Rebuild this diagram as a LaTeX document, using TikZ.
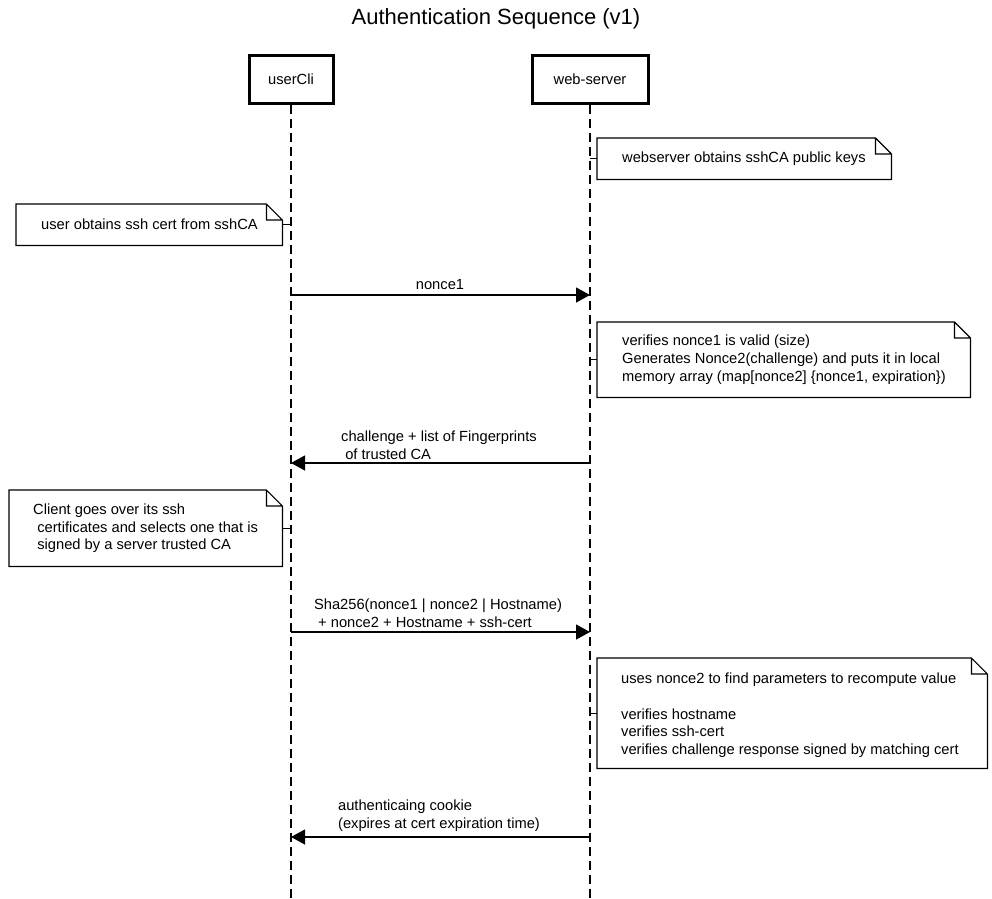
\documentclass[tikz,border=0pt]{standalone}
\usepackage{fontspec}
\setmainfont{Liberation Sans}
\usetikzlibrary{arrows.meta}
\begin{document}
\begin{tikzpicture}[x=1pt,y=-1pt,
  base/.style={font=\fontsize{14.7}{17.8}\selectfont},
  actor/.style={base, draw, line width=3pt, minimum height=48pt, inner sep=0pt},
  lifeline/.style={line width=1.2pt, dash pattern=on 9pt off 5pt},
  notebox/.style={anchor=north west, inner sep=0pt},
  notetext/.style={base, anchor=west, align=left, inner sep=0pt},
  noteline/.style={line width=1.2pt},
  msg/.style={line width=1.2pt, -{Triangle[length=14pt,width=15pt]}},
  msglabel/.style={base, align=left, inner sep=0pt}]

\path[use as bounding box] (0,0) rectangle (992,898);

% title
\node[font=\fontsize{22}{26}\selectfont] (title) at (496,19) {Authentication Sequence (v1)};

% participants and lifelines
\node[actor, minimum width=84pt] (uc) at (291,79) {userCli};
\node[actor, minimum width=116pt] (ws) at (590,79) {web-server};
\coordinate (ucEnd) at (291,898);
\coordinate (wsEnd) at (590,898);
\draw[lifeline] (uc.south) -- (ucEnd);
\draw[lifeline] (ws.south) -- (wsEnd);

% note boxes (outline drawn below)
\node[notebox, minimum width=294pt, minimum height=41pt] (n1) at (597,138) {};
\node[notebox, minimum width=266pt, minimum height=41pt] (n2) at (16,204) {};
\node[notebox, minimum width=373pt, minimum height=75pt] (n3) at (597,322) {};
\node[notebox, minimum width=273pt, minimum height=76pt] (n4) at (9,490) {};
\node[notebox, minimum width=390pt, minimum height=110pt] (n5) at (597,658) {};

\foreach \n in {n1,n2,n3,n4,n5}{
  \draw[noteline, line join=miter]
    (\n.north west) -- ([xshift=-16pt]\n.north east) -- ([yshift=-16pt]\n.north east)
    -- (\n.south east) -- (\n.south west) -- cycle
    ([xshift=-16pt]\n.north east) -- ([xshift=-16pt,yshift=-16pt]\n.north east)
    -- ([yshift=-16pt]\n.north east);
}

% note texts
\node[notetext] (t1) at ([xshift=25pt]n1.west) {webserver obtains sshCA public keys};
\node[notetext] (t2) at ([xshift=25pt]n2.west) {user obtains ssh cert from sshCA};
\node[notetext] (t3) at ([xshift=25pt]n3.west) {verifies nonce1 is valid (size)\\
  Generates Nonce2(challenge) and puts it in local\\
  memory array (map[nonce2] \{nonce1, expiration\})};
\node[notetext] (t4) at ([xshift=24pt]n4.west) {Client goes over its ssh\\
  \hspace*{0.28em}certificates and selects one that is\\
  \hspace*{0.28em}signed by a server trusted CA};
\node[notetext] (t5) at ([xshift=24pt,yshift=-2pt]n5.west) {uses nonce2 to find parameters to recompute value\\
  \mbox{}\\
  verifies hostname\\
  verifies ssh-cert\\
  verifies challenge response signed by matching cert};

% note connectors to lifelines
\draw[noteline] (n1.west) -- (n1.west -| ws.south);
\draw[noteline] (n2.east) -- (n2.east -| uc.south);
\draw[noteline] (n3.west) -- (n3.west -| ws.south);
\draw[noteline] (n4.east) -- (n4.east -| uc.south);
\draw[noteline] (n5.west) -- (n5.west -| ws.south);

% messages
\coordinate (m1a) at (291,295);
\coordinate (m1b) at (590,295);
\coordinate (m2a) at (590,463);
\coordinate (m2b) at (291,463);
\coordinate (m3a) at (291,632);
\coordinate (m3b) at (590,632);
\coordinate (m4a) at (590,837);
\coordinate (m4b) at (291,837);

\draw[msg] (m1a) -- (m1b);
\draw[msg] (m2a) -- (m2b);
\draw[msg] (m3a) -- (m3b);
\draw[msg] (m4a) -- (m4b);

\node[msglabel] (l1) at (440,285) {nonce1};
\node[msglabel] (l2) at (439,445) {challenge + list of Fingerprints\\
  \hspace*{0.28em}of trusted CA};
\node[msglabel] (l3) at (438,613) {Sha256(nonce1 | nonce2 | Hostname)\\
  \hspace*{0.28em}+ nonce2 + Hostname + ssh-cert};
\node[msglabel] (l4) at (439,816) {authenticaing cookie\\
  (expires at cert expiration time)};
\end{tikzpicture}
\end{document}
